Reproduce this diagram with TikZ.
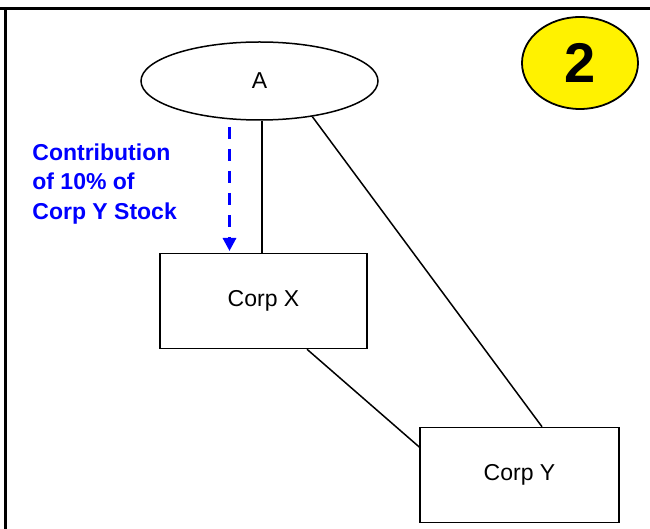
\documentclass[tikz,border=0pt]{standalone}
\usepackage{fontspec}
\setmainfont{Liberation Sans}
\usepackage{xcolor}
\usetikzlibrary{shapes.geometric,positioning,arrows.meta}

\tikzset{
  entity/.style={draw, line width=0.75pt, inner sep=0pt, font=\fontsize{11.5}{14}\selectfont},
  corpbox/.style={entity, rectangle, minimum height=47.5pt},
  owner/.style={entity, ellipse, minimum width=118.5pt, minimum height=39pt},
  badge/.style={draw, ellipse, fill=yellow, line width=0.9pt, inner sep=0pt,
    minimum width=58pt, minimum height=46pt, font=\fontsize{28}{30}\selectfont\bfseries},
  link/.style={line width=0.75pt},
  transfer/.style={draw=blue, line width=1.5pt, dash pattern=on 6pt off 5pt,
    -{Triangle[width=6.5pt,length=6.5pt]}}
}

\begin{document}
\begin{tikzpicture}[x=0.5pt, y=-0.5pt]
    \useasboundingbox (0,0) rectangle (650,529);
    % page frame
    \draw[line width=1.5pt] (0,8.5) -- (650,8.5);
    \draw[line width=1.5pt] (5.5,8.5) -- (5.5,529);
    % entities
    \node[owner] (A) at (259.5,81) {A};
    \node[corpbox, minimum width=103.5pt] (corpX) at (263.5,301) {Corp X};
    \node[corpbox, minimum width=99.5pt] (corpY) at (519.5,475) {Corp Y};
    \node[badge] (step2) at (580,63) {2};
    % ownership lines
    \draw[link] ([xshift=1.25pt]A.south) -- ([xshift=1.25pt]A.south |- corpX.north);
    \draw[link] (A.-34) -- ([xshift=11.25pt]corpY.north);
    \draw[link] ([xshift=21.75pt]corpX.south) -- ([yshift=14pt]corpY.west);
    % contribution of stock
    \coordinate (giveTop) at (229.5,127);
    \coordinate (giveEnd) at (229.5,251);
    \draw[transfer] (giveTop) -- (giveEnd);
    \node[anchor=base west, align=left, text=blue, inner sep=0pt,
      font=\fontsize{11.5}{14.75}\selectfont\bfseries] (contrib) at (32,219.5)
      {Contribution\\of 10\% of\\Corp Y Stock};
\end{tikzpicture}
\end{document}
